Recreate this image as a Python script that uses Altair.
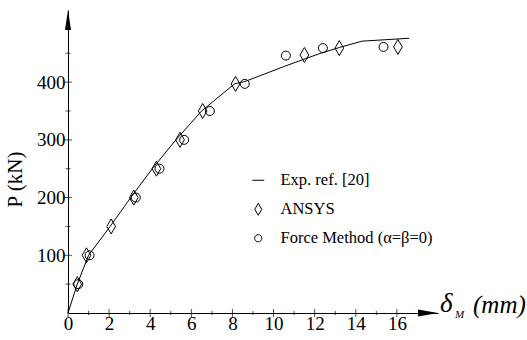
import altair as alt
import pandas as pd

# ---- data ----
series_names = ["Exp. ref. [20]", "ANSYS", "Force Method (α=β=0)"]

exp_delta = [0, 0.45, 1.0, 2.05, 3.05, 4.1, 5.25, 6.5, 8.1, 8.6, 10.5, 12.2, 13.2, 14.3, 16.6]
exp_p = [0, 50, 100, 150, 200, 250, 300, 350, 397, 401, 427, 449, 460, 471, 476]

ansys_delta = [0.45, 0.9, 2.1, 3.2, 4.3, 5.45, 6.55, 8.15, 11.5, 13.2, 16.05]
ansys_p = [50, 100, 150, 200, 250, 300, 350, 397, 447, 459, 461]

fm_delta = [0.5, 1.05, 3.3, 4.45, 5.65, 6.9, 8.6, 10.6, 12.4, 15.35]
fm_p = [50, 100, 200, 250, 300, 350, 397, 446, 459, 461]

x_major = [0, 2, 4, 6, 8, 10, 12, 14, 16]
x_minor = [1, 3, 5, 7, 9, 11, 13, 15]
y_major = [100, 200, 300, 400]
y_minor = [50, 150, 250, 350, 450]

# ---- tables ----
line_df = pd.DataFrame({"delta": exp_delta, "P": exp_p})
pts_df = pd.concat([
    pd.DataFrame({"delta": ansys_delta, "P": ansys_p, "series": series_names[1]}),
    pd.DataFrame({"delta": fm_delta, "P": fm_p, "series": series_names[2]}),
])

FONT = "Liberation Serif"
W, H = 370, 303
xs = alt.Scale(domain=[0, 18], nice=False, zero=False)
ys = alt.Scale(domain=[0, 525], nice=False, zero=False)

x_axis = alt.Axis(values=x_major, title=None, ticks=False, grid=False,
                  domainColor="black", domainWidth=1,
                  labelFont=FONT, labelFontSize=19, labelColor="black",
                  labelPadding=1, labelFlush=False)
y_axis = alt.Axis(values=y_major, title="P (kN)", ticks=False, grid=False,
                  domainColor="black", domainWidth=1,
                  labelFont=FONT, labelFontSize=19, labelColor="black",
                  labelPadding=3,
                  titleFont=FONT, titleFontSize=21, titleFontWeight="normal",
                  titleColor="black", titleX=-43, titleY=169)

stroke_path = "M-1,0L1,0"
diamond_path = "M0,-1L0.58,0L0,1L-0.58,0Z"
circle_path = "M0.6,0A0.6,0.6,0,1,1,-0.6,0A0.6,0.6,0,1,1,0.6,0Z"

line = alt.Chart(line_df).mark_line(color="black", strokeWidth=1).encode(
    x=alt.X("delta:Q", scale=xs, axis=x_axis, title=None),
    y=alt.Y("P:Q", scale=ys, axis=y_axis, title="P (kN)"),
)

points = alt.Chart(pts_df).mark_point(filled=False, color="black", strokeWidth=1, size=225, opacity=1).encode(
    x=alt.X("delta:Q", scale=xs, axis=x_axis, title=None),
    y=alt.Y("P:Q", scale=ys, axis=y_axis, title="P (kN)"),
    shape=alt.Shape("series:N",
                    scale=alt.Scale(domain=series_names,
                                    range=[stroke_path, diamond_path, circle_path]),
                    legend=alt.Legend(orient="none", legendX=182, legendY=162, title=None,
                                      labelFont=FONT, labelFontSize=16.5, labelColor="black",
                                      labelLimit=400, labelOffset=14, rowPadding=12,
                                      symbolSize=144, symbolStrokeColor="black",
                                      symbolStrokeWidth=1, symbolFillColor="transparent",
                                      padding=0)),
)

xt_major = alt.Chart(pd.DataFrame({"delta": x_major})).mark_tick(
    orient="vertical", size=8, thickness=1, color="black").encode(
    x=alt.X("delta:Q", scale=xs, axis=x_axis, title=None), y=alt.value(H))
xt_minor = alt.Chart(pd.DataFrame({"delta": x_minor})).mark_tick(
    orient="vertical", size=4, thickness=1, color="black").encode(
    x=alt.X("delta:Q", scale=xs, axis=x_axis, title=None), y=alt.value(H))
yt_major = alt.Chart(pd.DataFrame({"P": y_major})).mark_tick(
    orient="horizontal", size=8, thickness=1, color="black").encode(
    y=alt.Y("P:Q", scale=ys, axis=y_axis, title="P (kN)"), x=alt.value(0))
yt_minor = alt.Chart(pd.DataFrame({"P": y_minor})).mark_tick(
    orient="horizontal", size=5, thickness=1, color="black").encode(
    y=alt.Y("P:Q", scale=ys, axis=y_axis, title="P (kN)"), x=alt.value(0))

arrow_df = pd.DataFrame({"a": [1]})
arrow_up = alt.Chart(arrow_df).mark_point(
    shape="M0,-1L0.3,1L-0.3,1Z", filled=True, color="black", size=400, opacity=1).encode(
    x=alt.value(0), y=alt.value(10))
arrow_right = alt.Chart(arrow_df).mark_point(
    shape="M1,0L-1,0.35L-1,-0.35Z", filled=True, color="black", size=400, opacity=1).encode(
    x=alt.value(W - 10), y=alt.value(H))

def label(txt, x, y, size):
    return alt.Chart(pd.DataFrame({"t": [txt]})).mark_text(
        font=FONT, fontSize=size, fontStyle="italic", color="black",
        align="left", baseline="alphabetic").encode(
        text="t:N", x=alt.value(x), y=alt.value(y))

t_delta = label("δ", 372, 302, 27)
t_sub = label("M", 387, 308, 11)
t_mm = label("(mm)", 405, 303, 25)

chart = alt.layer(
    line, xt_major, xt_minor, yt_major, yt_minor, points,
    arrow_up, arrow_right, t_delta, t_sub, t_mm
).properties(
    width=W, height=H,
    autosize=alt.AutoSizeParams(type="none"),
    padding={"left": 68, "top": 10, "right": 89, "bottom": 27},
    background="white",
).configure_view(stroke=None).configure_axis(
    labelFont=FONT, labelFontSize=19, labelColor="black"
)

chart.save("out.html", embed_options={"renderer": "svg", "actions": False})
